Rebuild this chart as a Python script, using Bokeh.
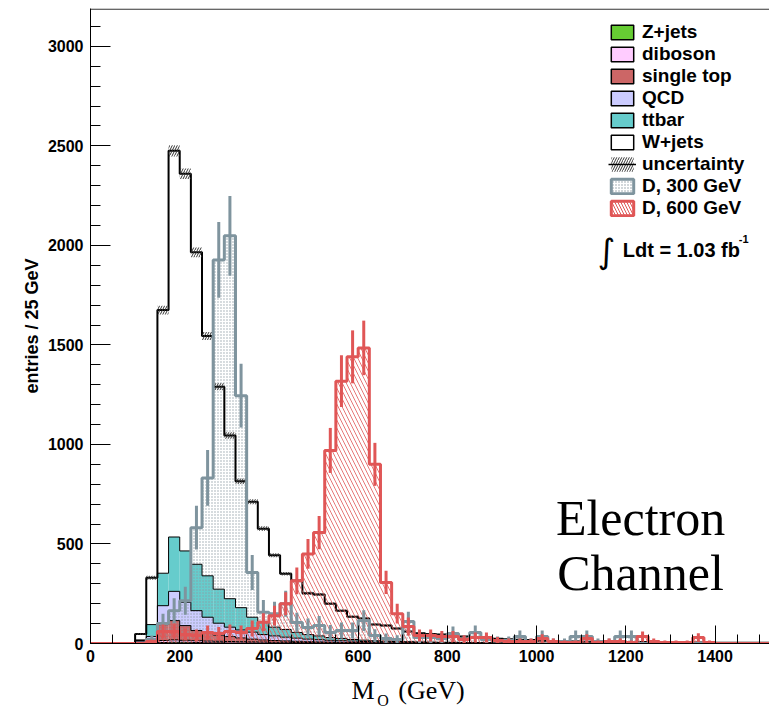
import numpy as np
from bokeh.plotting import figure
from bokeh.layouts import column
from bokeh.models import Range1d, Label, Legend, LegendItem, FixedTicker, Span, Title
from bokeh.core.properties import value
from bokeh.embed import file_html
from bokeh.resources import INLINE

BIN_WIDTH = 25
bin_low = list(np.arange(100, 1525, BIN_WIDTH))  # 57 bins, 100 .. 1500 GeV

# ---- stacked backgrounds (entries per bin) ----
zjets = [1, 3, 5, 6, 6, 5, 4, 4, 3, 3, 3, 2, 2, 2, 2, 1, 1, 1, 1, 1,
         1, 1, 1, 1, 0, 0, 0, 0, 0, 0, 0, 0, 0, 0, 0, 0, 0,
         0, 0, 0, 0, 0, 0, 0, 0, 0, 0, 0, 0, 0, 0, 0, 0, 0, 0, 0, 0]
diboson = [3, 5, 10, 12, 10, 9, 8, 7, 7, 6, 5, 5, 4, 4, 3, 4, 3, 3, 2, 2,
           2, 1, 1, 1, 2, 2, 1, 1, 1, 1, 1, 1, 0, 0, 0, 0, 0,
           0, 0, 0, 0, 0, 0, 0, 0, 0, 0, 0, 0, 0, 0, 0, 0, 0, 0, 0, 0]
single_top = [4, 12, 80, 97, 74, 51, 40, 31, 25, 19, 14, 11, 9, 7, 6, 4, 4, 3, 3, 2,
              1, 2, 1, 1, 1, 0, 1, 1, 1, 1, 0, 0, 0, 0, 0, 0, 0,
              0, 0, 0, 0, 0, 0, 0, 0, 0, 0, 0, 0, 0, 0, 0, 0, 0, 0, 0, 0]
qcd = [7, 15, 95, 147, 117, 100, 80, 60, 47, 40, 35, 27, 23, 19, 16, 13, 11, 9, 8, 7,
       6, 5, 5, 4, 3, 3, 3, 2, 2, 1, 2, 2, 1, 1, 1, 1, 1,
       1, 1, 0, 0, 0, 0, 0, 0, 0, 0, 0, 0, 0, 0, 0, 0, 0, 0, 0, 0]
ttbar = [3, 60, 163, 273, 258, 233, 208, 171, 143, 112, 75, 62, 44, 38, 28, 23, 19, 14, 11, 8,
         7, 5, 4, 3, 3, 3, 2, 2, 2, 2, 2, 1, 2, 1, 1, 1, 0,
         0, 0, 0, 0, 0, 0, 0, 0, 0, 0, 0, 0, 0, 0, 0, 0, 0, 0, 0, 0]
wjets = [30, 235, 1322, 1940, 1895, 1567, 1205, 1017, 820, 635, 580, 470, 361, 280, 260, 207, 208, 170, 140, 115,
         108, 81, 78, 65, 51, 44, 41, 39, 34, 30, 25, 23, 21, 19, 17, 15, 13,
         12, 10, 10, 9, 9, 8, 8, 7, 7, 7, 6, 6, 5, 5, 5, 4, 4, 4, 4, 4]
uncertainty = [5, 10, 22, 28, 26, 24, 20, 18, 16, 14, 13, 12, 10, 9, 9, 8, 8, 7, 6, 6,
               6, 5, 5, 5, 4, 4, 4, 4, 4, 4, 3, 3, 3, 3, 3, 3, 3,
               3, 3, 3, 3, 3, 3, 3, 3, 3, 3, 3, 3, 3, 3, 3, 3, 3, 3, 3, 3]

# ---- signals ----
d300 = [0, 20, 100, 165, 215, 582, 832, 1927, 2048, 1245, 357, 157, 150, 200, 105, 80, 90, 55, 65, 65,
        115, 40, 25, 20, 110, 30, 30, 25, 50, 20, 55, 20, 15, 15, 35, 10, 35,
        10, 10, 35, 35, 10, 10, 35, 35, 0, 0, 0, 0, 0, 0, 0, 0, 0, 0, 0, 0]
d300_err = [0, 20, 50, 62, 70, 110, 140, 190, 200, 160, 88, 62, 60, 65, 50, 45, 48, 38, 40, 40,
            52, 32, 25, 22, 50, 28, 28, 25, 35, 22, 35, 22, 20, 20, 30, 15, 30,
            15, 15, 30, 30, 15, 15, 30, 30, 0, 0, 0, 0, 0, 0, 0, 0, 0, 0, 0, 0]
d600 = [0, 10, 60, 60, 45, 40, 55, 50, 60, 55, 75, 107, 140, 200, 315, 450, 557, 970, 1318, 1440,
        1485, 900, 307, 150, 85, 40, 40, 35, 35, 20, 30, 30, 15, 10, 10, 10, 25,
        10, 5, 5, 25, 5, 10, 10, 5, 35, 10, 5, 5, 5, 30, 5, 0, 0, 0, 0, 0]
d600_err = [0, 10, 35, 35, 30, 30, 35, 33, 35, 35, 40, 45, 50, 58, 67, 75, 83, 113, 130, 133,
            137, 108, 58, 50, 45, 30, 30, 28, 28, 22, 25, 25, 18, 15, 15, 15, 22,
            15, 10, 10, 22, 10, 15, 15, 10, 25, 15, 10, 10, 10, 22, 10, 0, 0, 0, 0, 0]

x_ticks = [0, 200, 400, 600, 800, 1000, 1200, 1400]
y_ticks = [0, 500, 1000, 1500, 2000, 2500, 3000]

colors = {
    "Z+jets": "#66cc33", "diboson": "#ffccff", "single top": "#cc6666",
    "QCD": "#ccccff", "ttbar": "#66cccc", "W+jets": "#ffffff",
}
C300 = "#7f949e"
C600 = "#e05656"

X_MAX, Y_MAX = 1522, 3190
FULL_W = 769
LEFT = 90

p = figure(width=FULL_W, height=669, output_backend="svg", toolbar_location=None,
           x_range=Range1d(0, X_MAX), y_range=Range1d(0, Y_MAX),
           min_border_left=LEFT, min_border_right=0, min_border_top=8, min_border_bottom=26)
p.xgrid.visible = False
p.ygrid.visible = False
p.outline_line_color = None

lo = np.array(bin_low, dtype=float)
hi = lo + BIN_WIDTH
ctr = lo + BIN_WIDTH / 2


def step_xy(vals, start=None):
    xs, ys = [], []
    x0 = lo[0] if start is None else start
    xs.append(x0); ys.append(0)
    if start is not None:
        xs.append(lo[0]); ys.append(0)
    for a, b, v in zip(lo, hi, vals):
        xs += [a, b]; ys += [v, v]
    xs.append(hi[-1]); ys.append(0)
    return xs, ys


stack = [("Z+jets", zjets), ("diboson", diboson), ("single top", single_top),
         ("QCD", qcd), ("ttbar", ttbar), ("W+jets", wjets)]
cum = np.zeros(len(bin_low))
tops = []
for name, vals in stack:
    bottom = cum.copy()
    cum = cum + np.array(vals, dtype=float)
    p.quad(left=lo, right=hi, bottom=bottom, top=cum, fill_color=colors[name], line_color=None)
    tops.append((name, cum.copy()))
total = cum

# D300 stipple fill
p.quad(left=lo, right=hi, bottom=0, top=d300, fill_color=None, line_color=None,
       hatch_pattern=".", hatch_color="#8d9ba3", hatch_scale=3, hatch_weight=1, hatch_alpha=0.9)

# stack outlines
for name, t in tops:
    xs, ys = step_xy(t)
    p.line(xs, ys, line_color="black", line_width=2 if name == "W+jets" else 1)

# uncertainty band
unc = np.array(uncertainty, dtype=float)
p.quad(left=lo, right=hi, bottom=total - unc, top=total + unc, fill_color=None, line_color=None,
       hatch_pattern="/", hatch_color="#333333", hatch_scale=5, hatch_weight=1)

# D600 hatch fill
p.quad(left=lo, right=hi, bottom=0, top=d600, fill_color=None, line_color=None,
       hatch_pattern="\\", hatch_color=C600, hatch_scale=8, hatch_weight=1, hatch_alpha=0.8)

# D300 line + errors
xs, ys = step_xy(d300)
p.line(xs, ys, line_color=C300, line_width=3)
e3 = np.array(d300_err, dtype=float)
v3 = np.array(d300, dtype=float)
p.segment(x0=ctr, y0=v3 - e3, x1=ctr, y1=v3 + e3, line_color=C300, line_width=3)

# D600 line + errors
xs, ys = step_xy(d600, start=0)
p.line(xs, ys, line_color=C600, line_width=3)
e6 = np.array(d600_err, dtype=float)
v6 = np.array(d600, dtype=float)
p.segment(x0=ctr, y0=v6 - e6, x1=ctr, y1=v6 + e6, line_color=C600, line_width=3)

# top frame line
p.add_layout(Span(location=Y_MAX - 3, dimension="width", line_color="black", line_width=1))

# axes
for ax in (p.xaxis[0], p.yaxis[0]):
    ax.axis_line_color = "black"
    ax.major_tick_line_color = "black"
    ax.minor_tick_line_color = "black"
    ax.major_tick_out = 0
    ax.minor_tick_out = 0
    ax.major_label_text_font = "Liberation Sans"
    ax.major_label_text_font_style = "bold"
    ax.major_label_text_font_size = "16px"
    ax.major_label_text_color = "black"
p.xaxis.ticker = FixedTicker(ticks=x_ticks, minor_ticks=list(range(0, 1550, 50)))
p.yaxis.ticker = FixedTicker(ticks=y_ticks, minor_ticks=list(range(0, 3200, 100)))
p.xaxis.major_tick_in = 18
p.xaxis.minor_tick_in = 9
p.yaxis.major_tick_in = 20
p.yaxis.minor_tick_in = 10
p.xaxis.major_label_standoff = 6
p.yaxis.major_label_standoff = 7

# y axis title
p.add_layout(Title(text="entries / 25 GeV", align="center", standoff=6,
                   text_font="Liberation Sans", text_font_style="bold", text_font_size="18px",
                   text_color="black"), "left")

# legend (proxy renderers, NaN data so nothing is drawn in the frame)
nan = [np.nan]
items = []
for name in ["Z+jets", "diboson", "single top", "QCD", "ttbar", "W+jets"]:
    r = p.quad(left=nan, right=nan, bottom=nan, top=nan, fill_color=colors[name],
               line_color="black", line_width=1.5)
    items.append(LegendItem(label=name, renderers=[r]))
ru = p.quad(left=nan, right=nan, bottom=nan, top=nan, fill_color=None, line_color=None,
            hatch_pattern="/", hatch_color="#333333", hatch_scale=5, hatch_weight=1)
rl = p.line(x=nan, y=nan, line_color="black", line_width=1.5)
items.append(LegendItem(label="uncertainty", renderers=[ru, rl]))
r3 = p.quad(left=nan, right=nan, bottom=nan, top=nan, fill_color=None, line_color=C300, line_width=3,
            hatch_pattern=".", hatch_color="#8d9ba3", hatch_scale=3, hatch_weight=1)
items.append(LegendItem(label="D, 300 GeV", renderers=[r3]))
r6 = p.quad(left=nan, right=nan, bottom=nan, top=nan, fill_color=None, line_color=C600, line_width=3,
            hatch_pattern="\\", hatch_color=C600, hatch_scale=6, hatch_weight=1)
items.append(LegendItem(label="D, 600 GeV", renderers=[r6]))

legend = Legend(items=items, location=(518, 424), glyph_width=28, glyph_height=18,
                label_height=22, spacing=0, padding=0, margin=0, border_line_color=None,
                background_fill_alpha=0, label_text_font="Liberation Sans",
                label_text_font_style="bold", label_text_font_size="19px", label_standoff=6,
                label_text_color="black")
p.add_layout(legend)

# luminosity
p.add_layout(Label(x=1157, y=1972, text="\u222b", text_align="center", text_baseline="middle",
                   text_font="DejaVu Sans", text_font_size="34px", text_color="black"))
p.add_layout(Label(x=1193, y=1977, text="Ldt = 1.03 fb", text_align="left", text_baseline="middle",
                   text_font="Liberation Sans", text_font_style="bold", text_font_size="20px",
                   text_color="black"))
p.add_layout(Label(x=1453, y=2030, text="-1", text_align="left", text_baseline="middle",
                   text_font="Liberation Sans", text_font_style="bold", text_font_size="11px",
                   text_color="black"))

# channel text
p.add_layout(Label(x=1233, y=632, text="Electron", text_align="center", text_baseline="alphabetic",
                   text_font="Liberation Serif", text_font_size="50px", text_color="black"))
p.add_layout(Label(x=1233, y=356, text="Channel", text_align="center", text_baseline="alphabetic",
                   text_font="Liberation Serif", text_font_size="50px", text_color="black"))

# x axis title strip (same x scale as the main plot)
q = figure(width=FULL_W, height=42, output_backend="svg", toolbar_location=None,
           x_range=p.x_range, y_range=Range1d(0, 42),
           min_border_left=LEFT, min_border_right=0, min_border_top=0, min_border_bottom=0)
q.axis.visible = False
q.xgrid.visible = False
q.ygrid.visible = False
q.outline_line_color = None
q.text(x=[637], y=[21], text=["M"], text_align="right", text_baseline="alphabetic",
       text_font=value("Liberation Serif"), text_font_size="26px", text_color="black")
q.text(x=[643], y=[11], text=["O"], text_align="left", text_baseline="alphabetic",
       text_font=value("Liberation Serif"), text_font_size="16px", text_color="black")
q.text(x=[690], y=[21], text=["(GeV)"], text_align="left", text_baseline="alphabetic",
       text_font=value("Liberation Serif"), text_font_size="26px", text_color="black")

layout = column(p, q, spacing=0)
open("out.html", "w").write(file_html(layout, INLINE))
